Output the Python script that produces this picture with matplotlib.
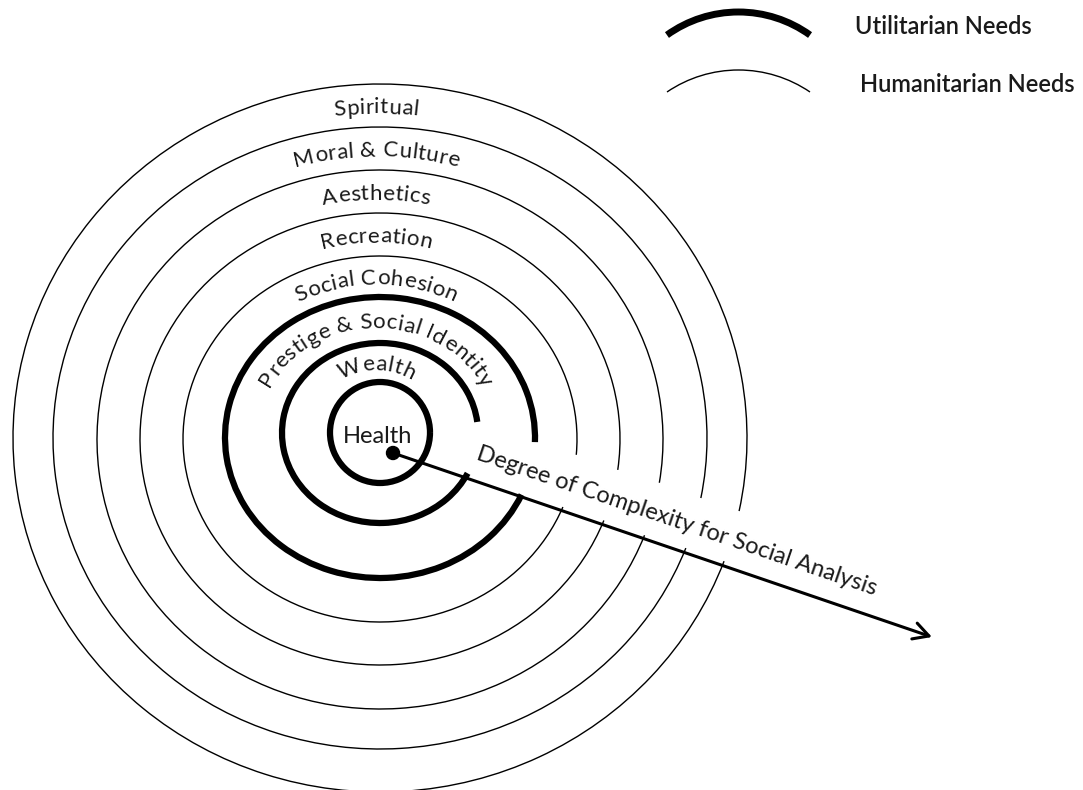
import numpy as np
import matplotlib.pyplot as plt
from matplotlib.patches import Arc, Circle, FancyArrowPatch
from matplotlib.font_manager import FontProperties, findfont, get_font

plt.rcParams['font.family'] = ['Lato', 'DejaVu Sans']

W, H = 1083, 790

# anillos, de dentro hacia fuera (medidas en pixeles de la imagen, y hacia abajo)
anillos = ['Health', 'Wealth', 'Prestige & Social Identity', 'Social Cohesion',
           'Recreation', 'Aesthetics', 'Moral & Culture', 'Spiritual']
utilitaria = [True, True, True, False, False, False, False, False]
radio_x = [50, 98, 155, 197, 240, 283, 327, 367]
radio_y = [50.5, 90, 140.5, 183, 226, 269.5, 311, 354]
centro_y = [432.5, 433, 437.5, 439, 439, 439.5, 438, 438]
centro_x = 380

# hueco por donde pasa la flecha (angulos en grados)
hueco_ini = [None, -24.7, -22.0, -20.4, -20.0, -19.9, -19.8, -19.7]
hueco_fin = [None, 6.5, -1.7, -4.6, -7.4, -8.8, -10.6, -11.5]

# flecha
flecha_ini = (393, 453)
flecha_fin = (932, 637)
flecha_texto = 'Degree of Complexity for Social Analysis'

leyenda = ['Utilitarian Needs', 'Humanitarian Needs']


def yy(py):
    return H - py


def texto_curvo(ax, s, cx, cy, rx, ry, size, espaciado=1.0):
    fp = FontProperties(family=plt.rcParams['font.family'], size=size)
    font = get_font(findfont(fp))
    font.set_size(size, 72)
    px = 100 / 72
    adv = np.array([font.load_char(ord(c)).linearHoriAdvance / 65536 for c in s]) * px * espaciado
    pos = np.cumsum(adv) - adv / 2 - adv.sum() / 2
    off = 0.36 * size * px
    a, b = rx - off, ry - off
    u = np.linspace(-1.6, 1.6, 3201)
    t = np.pi / 2 - u
    ds = np.hypot(a * np.sin(t), b * np.cos(t))
    L = np.concatenate([[0], np.cumsum((ds[1:] + ds[:-1]) / 2 * np.diff(u))])
    L = L - np.interp(0, u, L)
    for c, p in zip(s, pos):
        if c == ' ':
            continue
        tc = np.pi / 2 - np.interp(p, L, u)
        x = cx + a * np.cos(tc)
        y = cy + b * np.sin(tc)
        ang = np.degrees(np.arctan2(-b * np.cos(tc), a * np.sin(tc)))
        ax.text(x, y, c, fontsize=size, rotation=ang, rotation_mode='anchor',
                ha='center', va='baseline', color='#1a1a1a')


fig = plt.figure(figsize=(W / 100, H / 100), dpi=100)
ax = fig.add_axes([0, 0, 1, 1])
ax.set_xlim(0, W)
ax.set_ylim(0, H)
ax.axis('off')

for i, nombre in enumerate(anillos):
    lw = 4.5 if utilitaria[i] else 1.0
    if hueco_ini[i] is None:
        t1, t2 = 0, 360
    else:
        t1, t2 = hueco_fin[i], 360 + hueco_ini[i]
    ax.add_patch(Arc((centro_x, yy(centro_y[i])), 2 * radio_x[i], 2 * radio_y[i],
                     theta1=t1, theta2=t2, lw=lw, color='black'))
    if i == 0:
        ax.text(centro_x - 2, yy(centro_y[0] + 4), nombre, fontsize=17,
                ha='center', va='center', color='#1a1a1a')
    else:
        rx = (radio_x[i] + radio_x[i - 1]) / 2
        ry = (radio_y[i] + radio_y[i - 1]) / 2
        cy = yy((centro_y[i] + centro_y[i - 1]) / 2)
        texto_curvo(ax, nombre, centro_x - 4, cy, rx, ry, 16, espaciado=1.05)

# punto y flecha
p0 = np.array([flecha_ini[0], yy(flecha_ini[1])], dtype=float)
p1 = np.array([flecha_fin[0], yy(flecha_fin[1])], dtype=float)
ax.add_patch(Circle(p0, 6.5, color='black'))
ax.add_patch(FancyArrowPatch(p0, p1, arrowstyle='->,head_length=0.55,head_width=0.3',
                             mutation_scale=20, lw=2.2, color='black',
                             shrinkA=0, shrinkB=0))
d = (p1 - p0) / np.linalg.norm(p1 - p0)
n = np.array([-d[1], d[0]])
ang = np.degrees(np.arctan2(d[1], d[0]))
pt = p0 + 80 * d + 21 * n
ax.text(pt[0], pt[1], flecha_texto, fontsize=17, rotation=ang, rotation_mode='anchor',
        ha='left', va='baseline', color='#1a1a1a')

# leyenda
ax.add_patch(Arc((738.5, 655.4), 2 * 122.6, 2 * 122.6, theta1=54.3, theta2=125.7,
                 lw=5, color='black'))
ax.add_patch(Arc((738.5, 592.8), 2 * 127.2, 2 * 127.2, theta1=55.8, theta2=124.2,
                 lw=1.0, color='black'))
ax.text(855, yy(27), leyenda[0], fontsize=17, fontweight='semibold', ha='left', va='center',
        color='#1a1a1a')
ax.text(860, yy(85), leyenda[1], fontsize=17, fontweight='semibold', ha='left', va='center',
        color='#1a1a1a')

fig.savefig('out.png', dpi=100)
